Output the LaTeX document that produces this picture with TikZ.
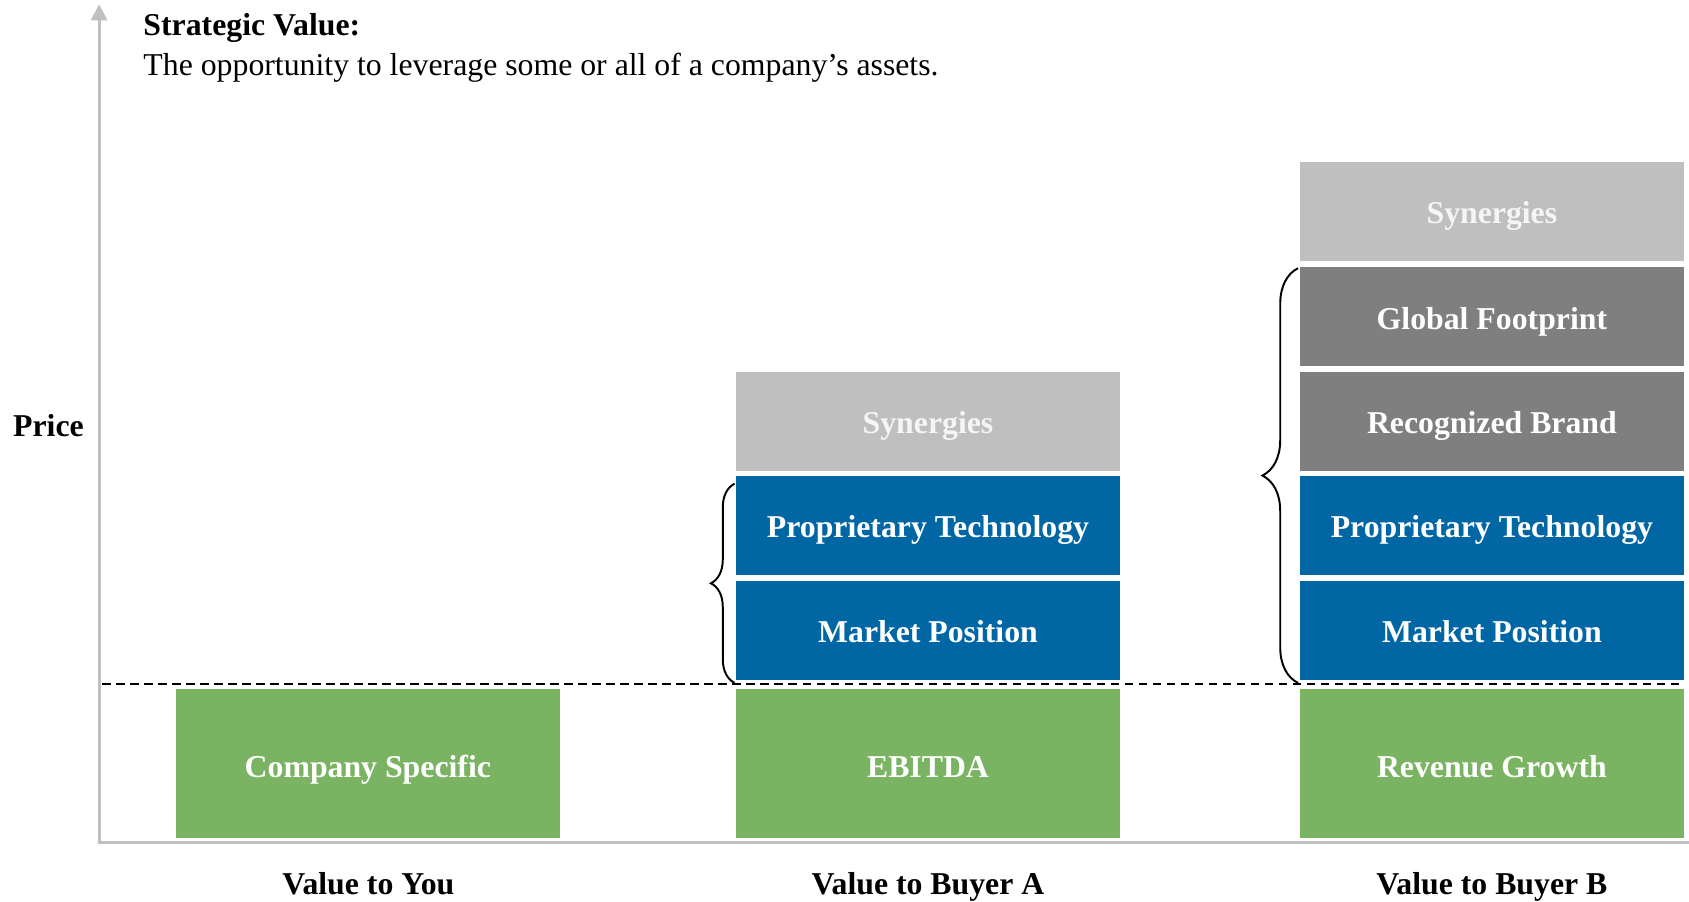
\documentclass[tikz,border=0pt]{standalone}
\usepackage{fontspec}
\setmainfont{Liberation Serif}
\usetikzlibrary{arrows.meta,decorations.pathreplacing}
\definecolor{boxgreen}{HTML}{7AB361}
\definecolor{boxblue}{HTML}{0066A4}
\definecolor{synlight}{HTML}{BFBFBF}
\definecolor{strgray}{HTML}{7F7F7F}
\definecolor{axisgray}{HTML}{C0C0C0}
\newcommand{\labfont}{\fontsize{29.5}{34}\selectfont}

\begin{document}
\begin{tikzpicture}[x=1pt,y=-1pt,
  block/.style={rectangle, inner sep=0pt, minimum width=357pt, minimum height=92pt,
    text=white, font=\labfont\bfseries, text height=23pt, text depth=0pt},
  basebox/.style={block, minimum height=138pt, fill=boxgreen, text height=25pt},
  bluebox/.style={block, fill=boxblue},
  graybox/.style={block, fill=strgray},
  synbox/.style={block, fill=synlight, text=white!96!black},
  axisline/.style={draw=axisgray, line width=2.8pt},
  floorline/.style={draw=black, line width=1.8pt, dash pattern=on 8pt off 5pt},
  bracket/.style={draw=black, line width=1.8pt, decorate},
  caption/.style={font=\labfont\bfseries, inner sep=0pt, anchor=base},
]
\useasboundingbox (0,0) rectangle (1568,837);

% axes
\coordinate (origin) at (92,782);
\coordinate (ytop) at (92,4);
\coordinate (xend) at (1568,782);
\coordinate (xstart) at (90.6,782);
\draw[axisline, -{Triangle[width=15pt,length=15pt]}] (origin) -- (ytop);
\draw[axisline] (xstart) -- (xend);

% heading
\node[font=\labfont\bfseries, inner sep=0pt, anchor=base west] (title) at (133,33) {Strategic Value:};
\node[font=\labfont, inner sep=0pt, anchor=base west] (subtitle) at (133,70) {The opportunity to leverage some or all of a company’s assets.};
\node[font=\labfont\bfseries, inner sep=0pt, anchor=base west] (price) at (12,405) {Price};

% column 1
\node[basebox] (cs) at (341.5,709) {Company Specific};

% column 2
\node[basebox] (ebitda) at (861.5,709) {EBITDA};
\node[bluebox] (mpA) at (861.5,585) {Market Position};
\node[bluebox] (ptA) at (861.5,487.5) {Proprietary Technology};
\node[synbox] (synA) at (861.5,391) {Synergies};

% column 3
\node[basebox, minimum width=356pt] (rg) at (1385,709) {Revenue Growth};
\node[bluebox, minimum width=356pt] (mpB) at (1385,585) {Market Position};
\node[bluebox, minimum width=356pt] (ptB) at (1385,487.5) {Proprietary Technology};
\node[graybox, minimum width=356pt] (rbB) at (1385,391) {Recognized Brand};
\node[graybox, minimum width=356pt] (gfB) at (1385,294) {Global Footprint};
\node[synbox, minimum width=356pt] (synB) at (1385,196) {Synergies};

% column captions
\node[caption] (capYou) at (342,830) {Value to You};
\node[caption] (capA) at (861.5,830) {Value to Buyer A};
\node[caption] (capB) at (1385,830) {Value to Buyer B};

% current-value threshold
\coordinate (floorL) at (95,635);
\coordinate (floorR) at (1559,635);
\draw[floorline] (floorL) -- (floorR);

% braces grouping the strategic drivers
\coordinate (braceAlo) at (682,634);
\coordinate (braceAhi) at (682,449);
\draw[bracket, decoration={brace, amplitude=22pt}] (braceAlo) -- (braceAhi);
\coordinate (braceBlo) at (1205,634);
\coordinate (braceBhi) at (1205,249);
\draw[bracket, decoration={brace, amplitude=33pt}] (braceBlo) -- (braceBhi);
\end{tikzpicture}
\end{document}
